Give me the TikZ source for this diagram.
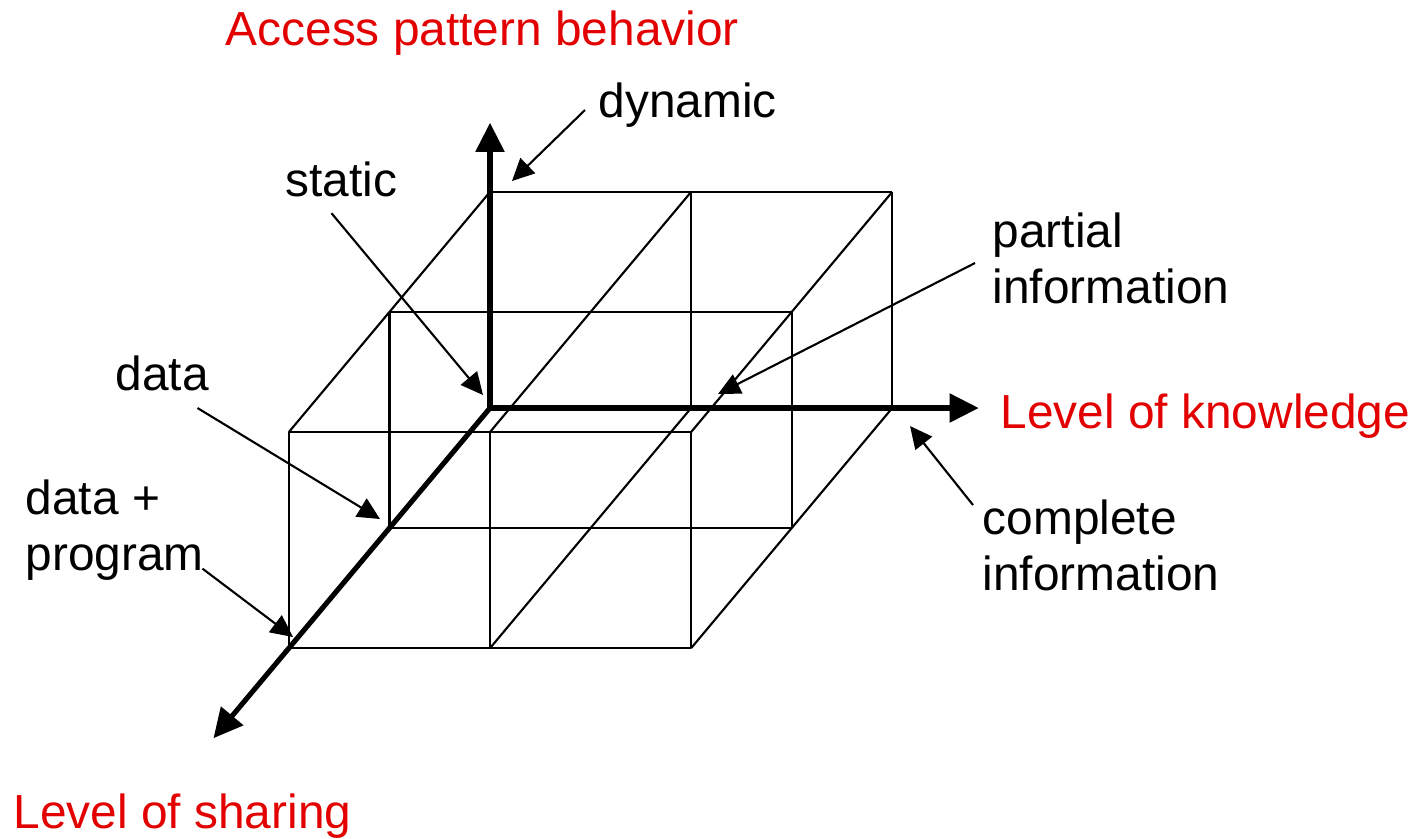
\documentclass[tikz,border=0pt]{standalone}
\usepackage{fontspec}
\setmainfont{Liberation Sans}
\usetikzlibrary{arrows.meta}
\definecolor{axisred}{RGB}{226,0,0}
\newcommand{\notefont}{\fontsize{13.6pt}{15.9pt}\selectfont}
\newcommand{\drawgrid}{\draw[gridline]}
% one upright edge of the box: column #1, depth #2
\newcommand{\upright}[2]{\drawgrid (#1,0,#2)--++(0,1,0);}

\tikzset{
  gridline/.style={line width=0.6pt},
  axisline/.style={line width=1.45pt},
  axistip/.tip={Triangle[length=8.3pt,width=8pt]},
  leader/.style={line width=0.6pt, -{Triangle[length=6.3pt,width=6pt]}},
  note/.style={font=\notefont, inner sep=0pt, anchor=base west, align=left},
  axisname/.style={note, text=axisred},
}

\begin{document}
\begin{tikzpicture}[x=0.01cm, y=-0.01cm]
\useasboundingbox (0,0) rectangle (1422,838);

% the box, in its own axes
\begin{scope}[shift={(490,408)}, x={(2.01cm,0cm)}, y={(0cm,2.16cm)}, z={(-1.005cm,-1.2cm)}]
  \coordinate (origin) at (0,0,0);
  \coordinate (accessend) at (0,1.32,0);
  \coordinate (knowledgeend) at (2.43,0,0);
  \coordinate (sharingend) at (0,0,2.75);
  % edges along the depth
  \foreach \x in {0,1,2}{\drawgrid (\x,1,0)--(\x,1,2);}
  \foreach \x in {1,2}{\drawgrid (\x,0,0)--(\x,0,2);}
  % edges along the width
  \foreach \z in {0,1,2}{\drawgrid (0,1,\z)--(2,1,\z);}
  \foreach \z in {1,2}{\drawgrid (0,0,\z)--(2,0,\z);}
  % upright edges (none in the middle of the middle plane)
  \upright{1}{0}\upright{2}{0}\upright{0}{1}\upright{2}{1}\upright{0}{2}\upright{1}{2}\upright{2}{2}
\end{scope}

% the three axes
\draw[axisline, axistip-axistip] (accessend)--(origin)--(knowledgeend);
\draw[axisline, -axistip] (origin)--(sharingend);

\node[axisname] (access) at (225,45) {Access pattern behavior};
\node[axisname] (knowledge) at (1000,428) {Level of knowledge};
\node[axisname] (sharing) at (13,828) {Level of sharing};

% two-line notes sit on the baseline of their last line
\node[note] (dynamic) at (598,117) {dynamic};
\node[note] (static) at (285,196) {static};
\node[note] (partial) at (992,303) {partial\\information};
\node[note] (complete) at (982,590) {complete\\information};
\node[note] (data) at (115,390) {data};
\node[note] (dataprog) at (25,570) {data +\\program};

\coordinate (dynamictip) at (512,181);
\coordinate (statictip) at (483,395);
\coordinate (partialtip) at (718,394);
\coordinate (completetip) at (910,426);
\coordinate (datatip) at (380,519);
\coordinate (dataprogtip) at (293,637);

\draw[leader] ([shift={(-13,-7)}]dynamic.base west)--(dynamictip);
\draw[leader] ([shift={(-10,16)}]static.south)--(statictip);
\draw[leader] ([shift={(-17,-40)}]partial.base west)--(partialtip);
\draw[leader] ([shift={(-9,-85)}]complete.base west)--(completetip);
\draw[leader] ([shift={(-12,18)}]data.base east)--(datatip);
\draw[leader] ([shift={(-2,-12)}]dataprog.south east)--(dataprogtip);
\end{tikzpicture}
\end{document}
